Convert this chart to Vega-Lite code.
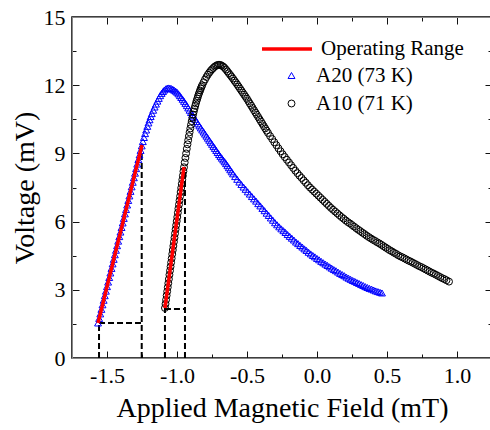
{
  "$schema": "https://vega.github.io/schema/vega-lite/v6.json",
  "width": 420,
  "height": 341,
  "autosize": {"type": "none"},
  "padding": {"left": 72, "top": 17, "right": 0, "bottom": 72},
  "background": "white",
  "view": {"stroke": "black", "strokeWidth": 1.5},
  "resolve": {"scale": {"color": "independent", "shape": "independent"}, "legend": {"color": "independent", "shape": "independent"}, "axis": {"x": "independent", "y": "independent"}},
  "layer": [
    {
      "data": {"values": [
        {"x": -1.557, "y": 0, "x2": -1.557, "y2": 1.54},
        {"x": -1.557, "y": 1.54, "x2": -1.252, "y2": 1.54},
        {"x": -1.252, "y": 0, "x2": -1.252, "y2": 9.37}
      ]},
      "mark": {"type": "rule", "color": "black", "strokeWidth": 2, "strokeDash": [6, 3]},
      "encoding": {
        "x": {"field": "x", "type": "quantitative", "scale": {"domain": [-1.75, 1.25], "nice": false, "zero": false},
          "axis": {"orient": "bottom", "grid": false, "values": [-1.5, -1, -0.5, 0, 0.5, 1], "labelExpr": "(datum.value < 0 ? '-' : '') + format(abs(datum.value), '.1f')", "ticks": false, "labelFont": "Liberation Serif", "labelColor": "black", "labelFontSize": 22, "labelPadding": 7, "labelFlush": false, "labelOverlap": false, "title": "Applied Magnetic Field (mT)", "titleFont": "Liberation Serif", "titleColor": "black", "titleFontWeight": "normal", "titleFontSize": 28, "titlePadding": 8}},
        "y": {"field": "y", "type": "quantitative", "scale": {"domain": [0, 15], "nice": false, "zero": false},
          "axis": {"orient": "left", "grid": false, "values": [0, 3, 6, 9, 12, 15], "format": "d", "ticks": false, "labelFont": "Liberation Serif", "labelColor": "black", "labelFontSize": 22, "labelPadding": 7, "labelFlush": false, "labelOverlap": false, "title": "Voltage (mV)", "titleFont": "Liberation Serif", "titleColor": "black", "titleFontWeight": "normal", "titleFontSize": 28, "titlePadding": 4}},
        "x2": {"field": "x2"},
        "y2": {"field": "y2"}
      }
    },
    {
      "data": {"values": [
        {"x": -1.086, "y": 0, "x2": -1.086, "y2": 2.2},
        {"x": -1.086, "y": 2.15, "x2": -0.943, "y2": 2.15},
        {"x": -0.943, "y": 0, "x2": -0.943, "y2": 8.4}
      ]},
      "mark": {"type": "rule", "color": "black", "strokeWidth": 2, "strokeDash": [6, 3]},
      "encoding": {
        "x": {"field": "x", "type": "quantitative", "scale": {"domain": [-1.75, 1.25], "nice": false, "zero": false},
          "axis": {"orient": "bottom", "values": [-1.5, -1, -0.5, 0, 0.5, 1], "labels": false, "title": null, "tickColor": "#111111", "tickSize": -7}},
        "y": {"field": "y", "type": "quantitative", "scale": {"domain": [0, 15], "nice": false, "zero": false},
          "axis": {"orient": "left", "values": [3, 6, 9, 12], "labels": false, "title": null, "tickColor": "#111111", "tickSize": -7}},
        "x2": {"field": "x2"},
        "y2": {"field": "y2"}
      }
    },
    {
      "data": {"values": [
        {"s": "A20 (73 K)", "x": -1.564, "y": 1.54},
        {"s": "A20 (73 K)", "x": -1.556, "y": 1.74},
        {"s": "A20 (73 K)", "x": -1.548, "y": 1.94},
        {"s": "A20 (73 K)", "x": -1.540, "y": 2.14},
        {"s": "A20 (73 K)", "x": -1.532, "y": 2.34},
        {"s": "A20 (73 K)", "x": -1.524, "y": 2.54},
        {"s": "A20 (73 K)", "x": -1.516, "y": 2.74},
        {"s": "A20 (73 K)", "x": -1.508, "y": 2.94},
        {"s": "A20 (73 K)", "x": -1.500, "y": 3.14},
        {"s": "A20 (73 K)", "x": -1.492, "y": 3.34},
        {"s": "A20 (73 K)", "x": -1.484, "y": 3.54},
        {"s": "A20 (73 K)", "x": -1.476, "y": 3.74},
        {"s": "A20 (73 K)", "x": -1.468, "y": 3.94},
        {"s": "A20 (73 K)", "x": -1.460, "y": 4.14},
        {"s": "A20 (73 K)", "x": -1.452, "y": 4.34},
        {"s": "A20 (73 K)", "x": -1.444, "y": 4.54},
        {"s": "A20 (73 K)", "x": -1.436, "y": 4.74},
        {"s": "A20 (73 K)", "x": -1.428, "y": 4.94},
        {"s": "A20 (73 K)", "x": -1.420, "y": 5.14},
        {"s": "A20 (73 K)", "x": -1.412, "y": 5.34},
        {"s": "A20 (73 K)", "x": -1.404, "y": 5.54},
        {"s": "A20 (73 K)", "x": -1.396, "y": 5.74},
        {"s": "A20 (73 K)", "x": -1.388, "y": 5.94},
        {"s": "A20 (73 K)", "x": -1.380, "y": 6.14},
        {"s": "A20 (73 K)", "x": -1.372, "y": 6.34},
        {"s": "A20 (73 K)", "x": -1.364, "y": 6.53},
        {"s": "A20 (73 K)", "x": -1.356, "y": 6.73},
        {"s": "A20 (73 K)", "x": -1.348, "y": 6.93},
        {"s": "A20 (73 K)", "x": -1.340, "y": 7.13},
        {"s": "A20 (73 K)", "x": -1.332, "y": 7.33},
        {"s": "A20 (73 K)", "x": -1.324, "y": 7.53},
        {"s": "A20 (73 K)", "x": -1.316, "y": 7.73},
        {"s": "A20 (73 K)", "x": -1.308, "y": 7.93},
        {"s": "A20 (73 K)", "x": -1.300, "y": 8.13},
        {"s": "A20 (73 K)", "x": -1.292, "y": 8.33},
        {"s": "A20 (73 K)", "x": -1.284, "y": 8.53},
        {"s": "A20 (73 K)", "x": -1.276, "y": 8.73},
        {"s": "A20 (73 K)", "x": -1.268, "y": 8.93},
        {"s": "A20 (73 K)", "x": -1.260, "y": 9.13},
        {"s": "A20 (73 K)", "x": -1.252, "y": 9.33},
        {"s": "A20 (73 K)", "x": -1.244, "y": 9.52},
        {"s": "A20 (73 K)", "x": -1.236, "y": 9.70},
        {"s": "A20 (73 K)", "x": -1.228, "y": 9.87},
        {"s": "A20 (73 K)", "x": -1.220, "y": 10.03},
        {"s": "A20 (73 K)", "x": -1.212, "y": 10.19},
        {"s": "A20 (73 K)", "x": -1.204, "y": 10.34},
        {"s": "A20 (73 K)", "x": -1.196, "y": 10.48},
        {"s": "A20 (73 K)", "x": -1.188, "y": 10.62},
        {"s": "A20 (73 K)", "x": -1.180, "y": 10.75},
        {"s": "A20 (73 K)", "x": -1.170, "y": 10.90},
        {"s": "A20 (73 K)", "x": -1.160, "y": 11.04},
        {"s": "A20 (73 K)", "x": -1.150, "y": 11.17},
        {"s": "A20 (73 K)", "x": -1.140, "y": 11.30},
        {"s": "A20 (73 K)", "x": -1.130, "y": 11.42},
        {"s": "A20 (73 K)", "x": -1.120, "y": 11.54},
        {"s": "A20 (73 K)", "x": -1.110, "y": 11.64},
        {"s": "A20 (73 K)", "x": -1.100, "y": 11.72},
        {"s": "A20 (73 K)", "x": -1.090, "y": 11.79},
        {"s": "A20 (73 K)", "x": -1.080, "y": 11.84},
        {"s": "A20 (73 K)", "x": -1.070, "y": 11.87},
        {"s": "A20 (73 K)", "x": -1.060, "y": 11.88},
        {"s": "A20 (73 K)", "x": -1.050, "y": 11.87},
        {"s": "A20 (73 K)", "x": -1.040, "y": 11.85},
        {"s": "A20 (73 K)", "x": -1.030, "y": 11.82},
        {"s": "A20 (73 K)", "x": -1.020, "y": 11.78},
        {"s": "A20 (73 K)", "x": -1.010, "y": 11.74},
        {"s": "A20 (73 K)", "x": -1.000, "y": 11.69},
        {"s": "A20 (73 K)", "x": -0.990, "y": 11.62},
        {"s": "A20 (73 K)", "x": -0.980, "y": 11.54},
        {"s": "A20 (73 K)", "x": -0.970, "y": 11.46},
        {"s": "A20 (73 K)", "x": -0.960, "y": 11.38},
        {"s": "A20 (73 K)", "x": -0.950, "y": 11.29},
        {"s": "A20 (73 K)", "x": -0.940, "y": 11.20},
        {"s": "A20 (73 K)", "x": -0.930, "y": 11.10},
        {"s": "A20 (73 K)", "x": -0.920, "y": 11.00},
        {"s": "A20 (73 K)", "x": -0.910, "y": 10.90},
        {"s": "A20 (73 K)", "x": -0.900, "y": 10.80},
        {"s": "A20 (73 K)", "x": -0.890, "y": 10.70},
        {"s": "A20 (73 K)", "x": -0.880, "y": 10.60},
        {"s": "A20 (73 K)", "x": -0.870, "y": 10.50},
        {"s": "A20 (73 K)", "x": -0.860, "y": 10.40},
        {"s": "A20 (73 K)", "x": -0.850, "y": 10.30},
        {"s": "A20 (73 K)", "x": -0.840, "y": 10.21},
        {"s": "A20 (73 K)", "x": -0.830, "y": 10.12},
        {"s": "A20 (73 K)", "x": -0.820, "y": 10.03},
        {"s": "A20 (73 K)", "x": -0.810, "y": 9.94},
        {"s": "A20 (73 K)", "x": -0.800, "y": 9.85},
        {"s": "A20 (73 K)", "x": -0.790, "y": 9.76},
        {"s": "A20 (73 K)", "x": -0.780, "y": 9.67},
        {"s": "A20 (73 K)", "x": -0.770, "y": 9.58},
        {"s": "A20 (73 K)", "x": -0.760, "y": 9.49},
        {"s": "A20 (73 K)", "x": -0.750, "y": 9.40},
        {"s": "A20 (73 K)", "x": -0.740, "y": 9.31},
        {"s": "A20 (73 K)", "x": -0.730, "y": 9.22},
        {"s": "A20 (73 K)", "x": -0.720, "y": 9.13},
        {"s": "A20 (73 K)", "x": -0.710, "y": 9.04},
        {"s": "A20 (73 K)", "x": -0.700, "y": 8.95},
        {"s": "A20 (73 K)", "x": -0.690, "y": 8.87},
        {"s": "A20 (73 K)", "x": -0.680, "y": 8.79},
        {"s": "A20 (73 K)", "x": -0.670, "y": 8.71},
        {"s": "A20 (73 K)", "x": -0.660, "y": 8.63},
        {"s": "A20 (73 K)", "x": -0.650, "y": 8.55},
        {"s": "A20 (73 K)", "x": -0.640, "y": 8.46},
        {"s": "A20 (73 K)", "x": -0.630, "y": 8.37},
        {"s": "A20 (73 K)", "x": -0.620, "y": 8.28},
        {"s": "A20 (73 K)", "x": -0.610, "y": 8.19},
        {"s": "A20 (73 K)", "x": -0.600, "y": 8.10},
        {"s": "A20 (73 K)", "x": -0.585, "y": 7.98},
        {"s": "A20 (73 K)", "x": -0.570, "y": 7.86},
        {"s": "A20 (73 K)", "x": -0.555, "y": 7.74},
        {"s": "A20 (73 K)", "x": -0.540, "y": 7.63},
        {"s": "A20 (73 K)", "x": -0.525, "y": 7.52},
        {"s": "A20 (73 K)", "x": -0.510, "y": 7.42},
        {"s": "A20 (73 K)", "x": -0.495, "y": 7.31},
        {"s": "A20 (73 K)", "x": -0.480, "y": 7.21},
        {"s": "A20 (73 K)", "x": -0.465, "y": 7.10},
        {"s": "A20 (73 K)", "x": -0.450, "y": 7.00},
        {"s": "A20 (73 K)", "x": -0.435, "y": 6.90},
        {"s": "A20 (73 K)", "x": -0.420, "y": 6.79},
        {"s": "A20 (73 K)", "x": -0.405, "y": 6.69},
        {"s": "A20 (73 K)", "x": -0.390, "y": 6.58},
        {"s": "A20 (73 K)", "x": -0.375, "y": 6.48},
        {"s": "A20 (73 K)", "x": -0.360, "y": 6.37},
        {"s": "A20 (73 K)", "x": -0.345, "y": 6.27},
        {"s": "A20 (73 K)", "x": -0.330, "y": 6.16},
        {"s": "A20 (73 K)", "x": -0.315, "y": 6.06},
        {"s": "A20 (73 K)", "x": -0.300, "y": 5.95},
        {"s": "A20 (73 K)", "x": -0.285, "y": 5.86},
        {"s": "A20 (73 K)", "x": -0.270, "y": 5.77},
        {"s": "A20 (73 K)", "x": -0.255, "y": 5.68},
        {"s": "A20 (73 K)", "x": -0.240, "y": 5.60},
        {"s": "A20 (73 K)", "x": -0.225, "y": 5.52},
        {"s": "A20 (73 K)", "x": -0.210, "y": 5.43},
        {"s": "A20 (73 K)", "x": -0.195, "y": 5.35},
        {"s": "A20 (73 K)", "x": -0.180, "y": 5.27},
        {"s": "A20 (73 K)", "x": -0.165, "y": 5.19},
        {"s": "A20 (73 K)", "x": -0.150, "y": 5.10},
        {"s": "A20 (73 K)", "x": -0.135, "y": 5.03},
        {"s": "A20 (73 K)", "x": -0.120, "y": 4.95},
        {"s": "A20 (73 K)", "x": -0.105, "y": 4.88},
        {"s": "A20 (73 K)", "x": -0.090, "y": 4.80},
        {"s": "A20 (73 K)", "x": -0.075, "y": 4.73},
        {"s": "A20 (73 K)", "x": -0.060, "y": 4.65},
        {"s": "A20 (73 K)", "x": -0.045, "y": 4.58},
        {"s": "A20 (73 K)", "x": -0.030, "y": 4.51},
        {"s": "A20 (73 K)", "x": -0.015, "y": 4.45},
        {"s": "A20 (73 K)", "x": 0.000, "y": 4.38},
        {"s": "A20 (73 K)", "x": 0.015, "y": 4.32},
        {"s": "A20 (73 K)", "x": 0.030, "y": 4.25},
        {"s": "A20 (73 K)", "x": 0.045, "y": 4.19},
        {"s": "A20 (73 K)", "x": 0.060, "y": 4.13},
        {"s": "A20 (73 K)", "x": 0.075, "y": 4.07},
        {"s": "A20 (73 K)", "x": 0.090, "y": 4.01},
        {"s": "A20 (73 K)", "x": 0.105, "y": 3.95},
        {"s": "A20 (73 K)", "x": 0.120, "y": 3.89},
        {"s": "A20 (73 K)", "x": 0.135, "y": 3.84},
        {"s": "A20 (73 K)", "x": 0.150, "y": 3.78},
        {"s": "A20 (73 K)", "x": 0.165, "y": 3.72},
        {"s": "A20 (73 K)", "x": 0.180, "y": 3.67},
        {"s": "A20 (73 K)", "x": 0.195, "y": 3.62},
        {"s": "A20 (73 K)", "x": 0.210, "y": 3.56},
        {"s": "A20 (73 K)", "x": 0.225, "y": 3.51},
        {"s": "A20 (73 K)", "x": 0.240, "y": 3.46},
        {"s": "A20 (73 K)", "x": 0.255, "y": 3.41},
        {"s": "A20 (73 K)", "x": 0.270, "y": 3.37},
        {"s": "A20 (73 K)", "x": 0.285, "y": 3.32},
        {"s": "A20 (73 K)", "x": 0.300, "y": 3.28},
        {"s": "A20 (73 K)", "x": 0.315, "y": 3.23},
        {"s": "A20 (73 K)", "x": 0.330, "y": 3.19},
        {"s": "A20 (73 K)", "x": 0.345, "y": 3.14},
        {"s": "A20 (73 K)", "x": 0.360, "y": 3.10},
        {"s": "A20 (73 K)", "x": 0.375, "y": 3.06},
        {"s": "A20 (73 K)", "x": 0.390, "y": 3.03},
        {"s": "A20 (73 K)", "x": 0.405, "y": 2.99},
        {"s": "A20 (73 K)", "x": 0.420, "y": 2.95},
        {"s": "A20 (73 K)", "x": 0.435, "y": 2.92},
        {"s": "A20 (73 K)", "x": 0.450, "y": 2.89},
        {"s": "A20 (73 K)", "x": 0.464, "y": 2.86},
        {"s": "A10 (71 K)", "x": -1.086, "y": 2.20},
        {"s": "A10 (71 K)", "x": -1.082, "y": 2.38},
        {"s": "A10 (71 K)", "x": -1.078, "y": 2.56},
        {"s": "A10 (71 K)", "x": -1.074, "y": 2.75},
        {"s": "A10 (71 K)", "x": -1.070, "y": 2.93},
        {"s": "A10 (71 K)", "x": -1.066, "y": 3.11},
        {"s": "A10 (71 K)", "x": -1.062, "y": 3.29},
        {"s": "A10 (71 K)", "x": -1.058, "y": 3.47},
        {"s": "A10 (71 K)", "x": -1.054, "y": 3.66},
        {"s": "A10 (71 K)", "x": -1.050, "y": 3.84},
        {"s": "A10 (71 K)", "x": -1.046, "y": 4.02},
        {"s": "A10 (71 K)", "x": -1.042, "y": 4.20},
        {"s": "A10 (71 K)", "x": -1.038, "y": 4.38},
        {"s": "A10 (71 K)", "x": -1.034, "y": 4.57},
        {"s": "A10 (71 K)", "x": -1.030, "y": 4.75},
        {"s": "A10 (71 K)", "x": -1.026, "y": 4.93},
        {"s": "A10 (71 K)", "x": -1.022, "y": 5.11},
        {"s": "A10 (71 K)", "x": -1.018, "y": 5.29},
        {"s": "A10 (71 K)", "x": -1.014, "y": 5.48},
        {"s": "A10 (71 K)", "x": -1.010, "y": 5.66},
        {"s": "A10 (71 K)", "x": -1.006, "y": 5.84},
        {"s": "A10 (71 K)", "x": -1.002, "y": 6.02},
        {"s": "A10 (71 K)", "x": -0.998, "y": 6.20},
        {"s": "A10 (71 K)", "x": -0.994, "y": 6.39},
        {"s": "A10 (71 K)", "x": -0.990, "y": 6.57},
        {"s": "A10 (71 K)", "x": -0.986, "y": 6.75},
        {"s": "A10 (71 K)", "x": -0.982, "y": 6.93},
        {"s": "A10 (71 K)", "x": -0.978, "y": 7.11},
        {"s": "A10 (71 K)", "x": -0.974, "y": 7.30},
        {"s": "A10 (71 K)", "x": -0.970, "y": 7.48},
        {"s": "A10 (71 K)", "x": -0.966, "y": 7.66},
        {"s": "A10 (71 K)", "x": -0.962, "y": 7.84},
        {"s": "A10 (71 K)", "x": -0.958, "y": 8.02},
        {"s": "A10 (71 K)", "x": -0.954, "y": 8.21},
        {"s": "A10 (71 K)", "x": -0.950, "y": 8.39},
        {"s": "A10 (71 K)", "x": -0.945, "y": 8.60},
        {"s": "A10 (71 K)", "x": -0.940, "y": 8.80},
        {"s": "A10 (71 K)", "x": -0.935, "y": 9.00},
        {"s": "A10 (71 K)", "x": -0.930, "y": 9.20},
        {"s": "A10 (71 K)", "x": -0.925, "y": 9.40},
        {"s": "A10 (71 K)", "x": -0.920, "y": 9.58},
        {"s": "A10 (71 K)", "x": -0.915, "y": 9.76},
        {"s": "A10 (71 K)", "x": -0.910, "y": 9.93},
        {"s": "A10 (71 K)", "x": -0.905, "y": 10.10},
        {"s": "A10 (71 K)", "x": -0.900, "y": 10.26},
        {"s": "A10 (71 K)", "x": -0.895, "y": 10.42},
        {"s": "A10 (71 K)", "x": -0.890, "y": 10.57},
        {"s": "A10 (71 K)", "x": -0.885, "y": 10.71},
        {"s": "A10 (71 K)", "x": -0.880, "y": 10.84},
        {"s": "A10 (71 K)", "x": -0.875, "y": 10.97},
        {"s": "A10 (71 K)", "x": -0.870, "y": 11.09},
        {"s": "A10 (71 K)", "x": -0.865, "y": 11.20},
        {"s": "A10 (71 K)", "x": -0.860, "y": 11.31},
        {"s": "A10 (71 K)", "x": -0.855, "y": 11.41},
        {"s": "A10 (71 K)", "x": -0.850, "y": 11.51},
        {"s": "A10 (71 K)", "x": -0.845, "y": 11.60},
        {"s": "A10 (71 K)", "x": -0.840, "y": 11.69},
        {"s": "A10 (71 K)", "x": -0.835, "y": 11.77},
        {"s": "A10 (71 K)", "x": -0.830, "y": 11.85},
        {"s": "A10 (71 K)", "x": -0.825, "y": 11.93},
        {"s": "A10 (71 K)", "x": -0.820, "y": 12.00},
        {"s": "A10 (71 K)", "x": -0.810, "y": 12.13},
        {"s": "A10 (71 K)", "x": -0.800, "y": 12.25},
        {"s": "A10 (71 K)", "x": -0.790, "y": 12.36},
        {"s": "A10 (71 K)", "x": -0.780, "y": 12.46},
        {"s": "A10 (71 K)", "x": -0.770, "y": 12.55},
        {"s": "A10 (71 K)", "x": -0.760, "y": 12.63},
        {"s": "A10 (71 K)", "x": -0.750, "y": 12.70},
        {"s": "A10 (71 K)", "x": -0.740, "y": 12.76},
        {"s": "A10 (71 K)", "x": -0.730, "y": 12.82},
        {"s": "A10 (71 K)", "x": -0.720, "y": 12.86},
        {"s": "A10 (71 K)", "x": -0.710, "y": 12.89},
        {"s": "A10 (71 K)", "x": -0.700, "y": 12.90},
        {"s": "A10 (71 K)", "x": -0.690, "y": 12.89},
        {"s": "A10 (71 K)", "x": -0.680, "y": 12.86},
        {"s": "A10 (71 K)", "x": -0.670, "y": 12.82},
        {"s": "A10 (71 K)", "x": -0.660, "y": 12.76},
        {"s": "A10 (71 K)", "x": -0.650, "y": 12.69},
        {"s": "A10 (71 K)", "x": -0.640, "y": 12.61},
        {"s": "A10 (71 K)", "x": -0.630, "y": 12.53},
        {"s": "A10 (71 K)", "x": -0.620, "y": 12.45},
        {"s": "A10 (71 K)", "x": -0.610, "y": 12.37},
        {"s": "A10 (71 K)", "x": -0.600, "y": 12.29},
        {"s": "A10 (71 K)", "x": -0.590, "y": 12.20},
        {"s": "A10 (71 K)", "x": -0.580, "y": 12.12},
        {"s": "A10 (71 K)", "x": -0.570, "y": 12.03},
        {"s": "A10 (71 K)", "x": -0.560, "y": 11.94},
        {"s": "A10 (71 K)", "x": -0.550, "y": 11.85},
        {"s": "A10 (71 K)", "x": -0.540, "y": 11.76},
        {"s": "A10 (71 K)", "x": -0.530, "y": 11.67},
        {"s": "A10 (71 K)", "x": -0.520, "y": 11.58},
        {"s": "A10 (71 K)", "x": -0.510, "y": 11.49},
        {"s": "A10 (71 K)", "x": -0.500, "y": 11.40},
        {"s": "A10 (71 K)", "x": -0.490, "y": 11.30},
        {"s": "A10 (71 K)", "x": -0.480, "y": 11.20},
        {"s": "A10 (71 K)", "x": -0.470, "y": 11.10},
        {"s": "A10 (71 K)", "x": -0.460, "y": 11.00},
        {"s": "A10 (71 K)", "x": -0.450, "y": 10.90},
        {"s": "A10 (71 K)", "x": -0.440, "y": 10.80},
        {"s": "A10 (71 K)", "x": -0.430, "y": 10.70},
        {"s": "A10 (71 K)", "x": -0.420, "y": 10.60},
        {"s": "A10 (71 K)", "x": -0.410, "y": 10.50},
        {"s": "A10 (71 K)", "x": -0.400, "y": 10.40},
        {"s": "A10 (71 K)", "x": -0.390, "y": 10.30},
        {"s": "A10 (71 K)", "x": -0.380, "y": 10.20},
        {"s": "A10 (71 K)", "x": -0.370, "y": 10.10},
        {"s": "A10 (71 K)", "x": -0.360, "y": 10.00},
        {"s": "A10 (71 K)", "x": -0.350, "y": 9.90},
        {"s": "A10 (71 K)", "x": -0.335, "y": 9.76},
        {"s": "A10 (71 K)", "x": -0.320, "y": 9.63},
        {"s": "A10 (71 K)", "x": -0.305, "y": 9.49},
        {"s": "A10 (71 K)", "x": -0.290, "y": 9.36},
        {"s": "A10 (71 K)", "x": -0.275, "y": 9.22},
        {"s": "A10 (71 K)", "x": -0.260, "y": 9.09},
        {"s": "A10 (71 K)", "x": -0.245, "y": 8.96},
        {"s": "A10 (71 K)", "x": -0.230, "y": 8.84},
        {"s": "A10 (71 K)", "x": -0.215, "y": 8.72},
        {"s": "A10 (71 K)", "x": -0.200, "y": 8.60},
        {"s": "A10 (71 K)", "x": -0.185, "y": 8.48},
        {"s": "A10 (71 K)", "x": -0.170, "y": 8.36},
        {"s": "A10 (71 K)", "x": -0.155, "y": 8.24},
        {"s": "A10 (71 K)", "x": -0.140, "y": 8.13},
        {"s": "A10 (71 K)", "x": -0.125, "y": 8.02},
        {"s": "A10 (71 K)", "x": -0.110, "y": 7.92},
        {"s": "A10 (71 K)", "x": -0.095, "y": 7.81},
        {"s": "A10 (71 K)", "x": -0.080, "y": 7.71},
        {"s": "A10 (71 K)", "x": -0.065, "y": 7.60},
        {"s": "A10 (71 K)", "x": -0.050, "y": 7.50},
        {"s": "A10 (71 K)", "x": -0.035, "y": 7.41},
        {"s": "A10 (71 K)", "x": -0.020, "y": 7.32},
        {"s": "A10 (71 K)", "x": -0.005, "y": 7.23},
        {"s": "A10 (71 K)", "x": 0.010, "y": 7.14},
        {"s": "A10 (71 K)", "x": 0.025, "y": 7.05},
        {"s": "A10 (71 K)", "x": 0.040, "y": 6.96},
        {"s": "A10 (71 K)", "x": 0.055, "y": 6.87},
        {"s": "A10 (71 K)", "x": 0.070, "y": 6.78},
        {"s": "A10 (71 K)", "x": 0.085, "y": 6.69},
        {"s": "A10 (71 K)", "x": 0.100, "y": 6.60},
        {"s": "A10 (71 K)", "x": 0.115, "y": 6.52},
        {"s": "A10 (71 K)", "x": 0.130, "y": 6.44},
        {"s": "A10 (71 K)", "x": 0.145, "y": 6.36},
        {"s": "A10 (71 K)", "x": 0.160, "y": 6.28},
        {"s": "A10 (71 K)", "x": 0.175, "y": 6.20},
        {"s": "A10 (71 K)", "x": 0.190, "y": 6.13},
        {"s": "A10 (71 K)", "x": 0.205, "y": 6.05},
        {"s": "A10 (71 K)", "x": 0.220, "y": 5.98},
        {"s": "A10 (71 K)", "x": 0.235, "y": 5.92},
        {"s": "A10 (71 K)", "x": 0.250, "y": 5.85},
        {"s": "A10 (71 K)", "x": 0.265, "y": 5.78},
        {"s": "A10 (71 K)", "x": 0.280, "y": 5.71},
        {"s": "A10 (71 K)", "x": 0.295, "y": 5.64},
        {"s": "A10 (71 K)", "x": 0.310, "y": 5.58},
        {"s": "A10 (71 K)", "x": 0.325, "y": 5.51},
        {"s": "A10 (71 K)", "x": 0.340, "y": 5.45},
        {"s": "A10 (71 K)", "x": 0.355, "y": 5.38},
        {"s": "A10 (71 K)", "x": 0.370, "y": 5.32},
        {"s": "A10 (71 K)", "x": 0.385, "y": 5.26},
        {"s": "A10 (71 K)", "x": 0.400, "y": 5.20},
        {"s": "A10 (71 K)", "x": 0.415, "y": 5.15},
        {"s": "A10 (71 K)", "x": 0.430, "y": 5.09},
        {"s": "A10 (71 K)", "x": 0.445, "y": 5.04},
        {"s": "A10 (71 K)", "x": 0.460, "y": 4.98},
        {"s": "A10 (71 K)", "x": 0.475, "y": 4.92},
        {"s": "A10 (71 K)", "x": 0.490, "y": 4.86},
        {"s": "A10 (71 K)", "x": 0.505, "y": 4.80},
        {"s": "A10 (71 K)", "x": 0.520, "y": 4.74},
        {"s": "A10 (71 K)", "x": 0.535, "y": 4.69},
        {"s": "A10 (71 K)", "x": 0.550, "y": 4.63},
        {"s": "A10 (71 K)", "x": 0.565, "y": 4.58},
        {"s": "A10 (71 K)", "x": 0.580, "y": 4.52},
        {"s": "A10 (71 K)", "x": 0.595, "y": 4.47},
        {"s": "A10 (71 K)", "x": 0.610, "y": 4.43},
        {"s": "A10 (71 K)", "x": 0.625, "y": 4.38},
        {"s": "A10 (71 K)", "x": 0.640, "y": 4.33},
        {"s": "A10 (71 K)", "x": 0.655, "y": 4.28},
        {"s": "A10 (71 K)", "x": 0.670, "y": 4.24},
        {"s": "A10 (71 K)", "x": 0.685, "y": 4.19},
        {"s": "A10 (71 K)", "x": 0.700, "y": 4.14},
        {"s": "A10 (71 K)", "x": 0.715, "y": 4.09},
        {"s": "A10 (71 K)", "x": 0.730, "y": 4.04},
        {"s": "A10 (71 K)", "x": 0.745, "y": 4.00},
        {"s": "A10 (71 K)", "x": 0.760, "y": 3.95},
        {"s": "A10 (71 K)", "x": 0.775, "y": 3.90},
        {"s": "A10 (71 K)", "x": 0.790, "y": 3.85},
        {"s": "A10 (71 K)", "x": 0.805, "y": 3.80},
        {"s": "A10 (71 K)", "x": 0.820, "y": 3.75},
        {"s": "A10 (71 K)", "x": 0.835, "y": 3.71},
        {"s": "A10 (71 K)", "x": 0.850, "y": 3.66},
        {"s": "A10 (71 K)", "x": 0.865, "y": 3.61},
        {"s": "A10 (71 K)", "x": 0.880, "y": 3.56},
        {"s": "A10 (71 K)", "x": 0.895, "y": 3.51},
        {"s": "A10 (71 K)", "x": 0.910, "y": 3.47},
        {"s": "A10 (71 K)", "x": 0.925, "y": 3.42},
        {"s": "A10 (71 K)", "x": 0.943, "y": 3.36}
      ]},
      "mark": {"type": "point", "filled": false, "size": 48, "strokeWidth": 1, "opacity": 1},
      "encoding": {
        "x": {"field": "x", "type": "quantitative", "scale": {"domain": [-1.75, 1.25], "nice": false, "zero": false},
          "axis": {"orient": "bottom", "values": [-1.25, -0.75, -0.25, 0.25, 0.75], "labels": false, "title": null, "tickColor": "#111111", "tickSize": -4}},
        "y": {"field": "y", "type": "quantitative", "scale": {"domain": [0, 15], "nice": false, "zero": false},
          "axis": {"orient": "left", "values": [1.5, 4.5, 7.5, 10.5, 13.5], "labels": false, "title": null, "tickColor": "#111111", "tickSize": -4}},
        "color": {"field": "s", "type": "nominal", "scale": {"domain": ["A20 (73 K)", "A10 (71 K)"], "range": ["#0000ff", "#000000"]},
          "legend": {"title": null, "orient": "none", "legendX": 209, "legendY": 48, "padding": 0, "symbolOffset": 0, "labelFont": "Liberation Serif", "labelColor": "black", "labelFontSize": 21, "labelOffset": 14, "rowPadding": 6, "symbolSize": 48, "symbolStrokeWidth": 1}},
        "shape": {"field": "s", "type": "nominal", "scale": {"domain": ["A20 (73 K)", "A10 (71 K)"], "range": ["triangle-up", "circle"]},
          "legend": {"title": null, "orient": "none", "legendX": 209, "legendY": 48, "padding": 0, "symbolOffset": 0, "labelFont": "Liberation Serif", "labelColor": "black", "labelFontSize": 21, "labelOffset": 14, "rowPadding": 6, "symbolSize": 48, "symbolStrokeWidth": 1}}
      }
    },
    {
      "data": {"values": [
        {"series": "Operating Range", "x": -1.564, "y": 1.54},
        {"series": "Operating Range", "x": -1.25, "y": 9.37}
      ]},
      "mark": {"type": "line", "strokeWidth": 3.5},
      "encoding": {
        "x": {"field": "x", "type": "quantitative", "scale": {"domain": [-1.75, 1.25], "nice": false, "zero": false},
          "axis": {"orient": "top", "values": [-1.5, -1, -0.5, 0, 0.5, 1], "labels": false, "title": null, "tickColor": "#111111", "tickSize": -7}},
        "y": {"field": "y", "type": "quantitative", "scale": {"domain": [0, 15], "nice": false, "zero": false},
          "axis": {"orient": "right", "values": [3, 6, 9, 12], "labels": false, "title": null, "tickColor": "#111111", "tickSize": -7}},
        "color": {"field": "series", "type": "nominal", "scale": {"domain": ["Operating Range"], "range": ["#ff0000"]},
          "legend": {"title": null, "orient": "none", "legendX": 188, "legendY": 5, "padding": 0, "symbolOffset": 0, "labelFont": "Liberation Serif", "labelColor": "black", "labelFontSize": 21, "labelOffset": 7, "symbolType": "stroke", "symbolSize": 2500, "symbolStrokeWidth": 3.5}}
      }
    },
    {
      "data": {"values": [
        {"series": "Operating Range", "x": -1.086, "y": 2.2},
        {"series": "Operating Range", "x": -0.95, "y": 8.4}
      ]},
      "mark": {"type": "line", "strokeWidth": 3.5},
      "encoding": {
        "x": {"field": "x", "type": "quantitative", "scale": {"domain": [-1.75, 1.25], "nice": false, "zero": false},
          "axis": {"orient": "top", "values": [-1.25, -0.75, -0.25, 0.25, 0.75], "labels": false, "title": null, "tickColor": "#111111", "tickSize": -4}},
        "y": {"field": "y", "type": "quantitative", "scale": {"domain": [0, 15], "nice": false, "zero": false},
          "axis": {"orient": "right", "values": [1.5, 4.5, 7.5, 10.5, 13.5], "labels": false, "title": null, "tickColor": "#111111", "tickSize": -4}},
        "color": {"field": "series", "type": "nominal", "scale": {"domain": ["Operating Range"], "range": ["#ff0000"]}, "legend": null}
      }
    }
  ]
}
